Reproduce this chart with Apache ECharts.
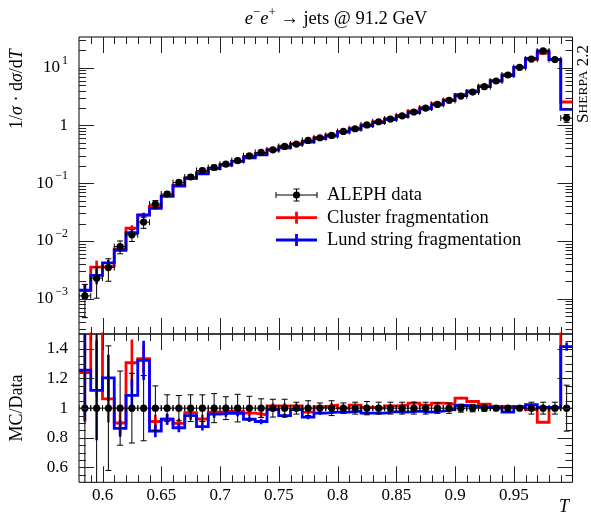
<!DOCTYPE html>
<html><head><meta charset="utf-8">
<script src="https://cdn.jsdelivr.net/npm/echarts@6/dist/echarts.min.js"></script>
<style>html,body{margin:0;padding:0;background:#fff}#c{width:591px;height:524px}</style>
</head><body><div id="c"></div>
<script>
// ---- data ----
const tEdges = [0.58,0.59,0.60,0.61,0.62,0.63,0.64,0.65,0.66,0.67,0.68,0.69,0.70,0.71,0.72,0.73,0.74,0.75,0.76,0.77,0.78,0.79,0.80,0.81,0.82,0.83,0.84,0.85,0.86,0.87,0.88,0.89,0.90,0.91,0.92,0.93,0.94,0.95,0.96,0.97,0.98,0.99,1.00];
const alephData = [0.00112,0.00227,0.00346,0.0080,0.0128,0.0212,0.0435,0.0648,0.103,0.128,0.166,0.187,0.214,0.247,0.298,0.341,0.379,0.433,0.476,0.550,0.612,0.671,0.787,0.877,1.02,1.16,1.29,1.47,1.71,2.00,2.31,2.71,3.23,3.79,4.69,5.88,7.47,10.1,14.1,19.5,13.8,1.34];
const alephRelErr = [0.58,0.55,0.42,0.25,0.235,0.22,0.15,0.09,0.085,0.09,0.09,0.098,0.077,0.093,0.08,0.063,0.06,0.06,0.04,0.05,0.035,0.05,0.035,0.04,0.045,0.04,0.04,0.04,0.04,0.04,0.035,0.035,0.027,0.025,0.02,0.012,0.012,0.012,0.04,0.04,0.04,0.155];
const clusterRatio = [1.24,1.55,1.063,0.90,1.306,1.333,0.91,0.925,0.898,0.97,0.927,0.973,0.98,0.98,0.966,0.955,1.016,1.016,1.016,0.973,1.01,1.02,1.0,1.02,1.005,1.0,1.016,1.02,1.034,1.02,1.034,1.027,1.068,1.045,1.027,1.011,1.011,1.011,0.99,0.905,1.0,1.9];
const lundRatio = [1.256,1.12,1.204,0.864,1.086,1.322,0.846,0.925,0.868,0.95,0.875,0.96,0.966,0.965,0.925,0.91,0.99,0.95,0.99,0.94,0.966,0.973,0.973,0.98,0.966,0.966,0.977,0.973,0.98,0.973,0.98,0.99,1.018,1.011,1.005,1.0,0.973,1.005,1.023,1.005,1.005,1.415];
const clusterRelErr = [0.27,0.30,0.15,0.08,0.12,0.07,0.05,0.04,0.035,0.03,0.03,0.025,0.025,0.02,0.02,0.02,0.015,0.015,0.015,0.015,0.012,0.012,0.012,0.01,0.01,0.01,0.01,0.01,0.01,0.01,0.008,0.008,0.008,0.008,0.006,0.006,0.005,0.005,0.004,0.004,0.005,0.02];
const lundRelErr = [0.27,0.30,0.13,0.065,0.10,0.10,0.05,0.04,0.035,0.03,0.03,0.025,0.025,0.02,0.02,0.02,0.015,0.015,0.015,0.015,0.012,0.012,0.012,0.01,0.01,0.01,0.01,0.01,0.01,0.01,0.008,0.008,0.008,0.008,0.006,0.006,0.005,0.005,0.004,0.004,0.005,0.02];
const xMajorTicks = [0.60,0.65,0.70,0.75,0.80,0.85,0.90,0.95];
const xMinorTicks = [0.59,0.61,0.62,0.63,0.64,0.66,0.67,0.68,0.69,0.71,0.72,0.73,0.74,0.76,0.77,0.78,0.79,0.81,0.82,0.83,0.84,0.86,0.87,0.88,0.89,0.91,0.92,0.93,0.94,0.96,0.97,0.98,0.99];
const yMajorTicks = [1e-3,1e-2,1e-1,1,10];
const yMinorTicks = [3e-4,4e-4,5e-4,6e-4,7e-4,8e-4,9e-4,2e-3,3e-3,4e-3,5e-3,6e-3,7e-3,8e-3,9e-3,2e-2,3e-2,4e-2,5e-2,6e-2,7e-2,8e-2,9e-2,0.2,0.3,0.4,0.5,0.6,0.7,0.8,0.9,2,3,4,5,6,7,8,9,20,30];
const rMajorTicks = [0.6,0.8,1.0,1.2,1.4];
const rMinorTicks = [0.55,0.65,0.7,0.75,0.85,0.9,0.95,1.05,1.1,1.15,1.25,1.3,1.35,1.45];
const legendLabels = ['ALEPH data','Cluster fragmentation','Lund string fragmentation'];
const seriesColors = ['#000000','#ff0000','#0000ff'];

// ---- derived ----
const lo = i => tEdges[i], hi = i => tEdges[i+1], mid = i => (tEdges[i]+tEdges[i+1])/2;
const clusterMC = alephData.map((v,i)=>v*clusterRatio[i]);
const lundMC = alephData.map((v,i)=>v*lundRatio[i]);
function histPts(vals){ const p=[]; vals.forEach((v,i)=>{p.push([lo(i),v]);p.push([hi(i),v]);}); return p; }
function errItems(vals, rel){ return vals.map((v,i)=>[mid(i), v, v*(1-rel[i]), v*(1+rel[i]), lo(i), hi(i)]); }
const FONT = 'Liberation Serif';

function dataSeries(g, items){
  return {type:'custom', name:'ALEPH data', xAxisIndex:g, yAxisIndex:g, clip:true, z:20, silent:true,
    encode:{x:0,y:1}, data:items,
    renderItem(params, api){
      const xc=api.value(0), y=api.value(1), yl=api.value(2), yh=api.value(3), xl=api.value(4), xh=api.value(5);
      const c=api.coord([xc,y]), pl=api.coord([xl,y]), ph=api.coord([xh,y]), pt=api.coord([xc,yh]), pb=api.coord([xc,yl]);
      const st={stroke:'#000', lineWidth:1};
      const L=(x1,y1,x2,y2)=>({type:'line', shape:{x1,y1,x2,y2}, style:st});
      return {type:'group', children:[
        L(pl[0],c[1],ph[0],c[1]), L(pl[0],c[1]-3,pl[0],c[1]+3), L(ph[0],c[1]-3,ph[0],c[1]+3),
        L(c[0],pt[1],c[0],pb[1]), L(c[0]-3,pt[1],c[0]+3,pt[1]), L(c[0]-3,pb[1],c[0]+3,pb[1]),
        {type:'circle', shape:{cx:c[0],cy:c[1],r:3.6}, style:{fill:'#000'}}
      ]};
    }};
}
function mcErrSeries(g, items, color, name){
  return {type:'custom', name, xAxisIndex:g, yAxisIndex:g, clip:true, z:5, silent:true,
    encode:{x:0,y:1}, data:items,
    renderItem(params, api){
      const pt=api.coord([api.value(0),api.value(3)]), pb=api.coord([api.value(0),api.value(2)]);
      return {type:'line', shape:{x1:pt[0],y1:pt[1],x2:pb[0],y2:pb[1]}, style:{stroke:color, lineWidth:2.6}};
    }};
}
function histSeries(g, vals, color, name, z){
  return {type:'line', name, xAxisIndex:g, yAxisIndex:g, data:histPts(vals), symbol:'none', showSymbol:false,
    clip:true, z, lineStyle:{color, width:2.8, join:'miter', cap:'butt'}, animation:false};
}
function tickSeries(g, axis, vals, len){
  return {type:'custom', xAxisIndex:g, yAxisIndex:g, silent:true, z:30, clip:false,
    encode:{x:0,y:1},
    data: vals.map(v => axis==='x' ? [v,1] : [0.8,v]),
    renderItem(params, api){
      const cs=params.coordSys; const p=api.coord([api.value(0),api.value(1)]);
      const st={stroke:'#222', lineWidth:1};
      if(axis==='x'){
        const x=Math.round(p[0])+0.5;
        return {type:'group', children:[
          {type:'line', shape:{x1:x,y1:cs.y,x2:x,y2:cs.y+len}, style:st},
          {type:'line', shape:{x1:x,y1:cs.y+cs.height,x2:x,y2:cs.y+cs.height-len}, style:st}]};
      }
      const y=Math.round(p[1])+0.5;
      return {type:'group', children:[
        {type:'line', shape:{x1:cs.x,y1:y,x2:cs.x+len,y2:y}, style:st},
        {type:'line', shape:{x1:cs.x+cs.width,y1:y,x2:cs.x+cs.width-len,y2:y}, style:st}]};
    }};
}
function logFmt(v){
  const l=Math.log10(v), e=Math.round(l);
  if(Math.abs(l-e)>0.01) return '';
  if(e===0) return '{b|1}';
  return '{b|10}{s|'+(e<0?'\u2212':'')+Math.abs(e)+'}';
}
const supRich = {b:{fontSize:17,fontFamily:FONT,color:'#000'}, s:{fontSize:12,fontFamily:FONT,color:'#000',padding:[0,0,14,2]}};

const gridL=79, gridR=591-572.5;
const option = {
  animation:false,
  backgroundColor:'#fff',
  title:{text:'{i|e}{s|\u2212}{i|e}{s|+} \u2192 jets @ 91.2 GeV', left:331, top:1, textAlign:'center',
    textStyle:{fontSize:18.5, fontFamily:FONT, fontWeight:'normal', color:'#000',
      rich:{i:{fontSize:18.5,fontFamily:FONT,fontStyle:'italic',color:'#000'}, s:{fontSize:13,fontFamily:FONT,color:'#000',padding:[0,0,14,0]}}}},
  grid:[
    {left:gridL, right:gridR, top:37, height:297, show:true, borderColor:'#000', borderWidth:1, containLabel:false},
    {left:gridL, right:gridR, top:334, height:148.3, show:true, borderColor:'#000', borderWidth:1, containLabel:false}
  ],
  xAxis:[
    {gridIndex:0, type:'value', min:0.58, max:1.0, splitNumber:8, axisLabel:{show:false}, axisTick:{show:false}, axisLine:{show:false}, splitLine:{show:false}},
    {gridIndex:1, type:'value', min:0.58, max:1.0, splitNumber:8, axisTick:{show:false}, axisLine:{show:false}, splitLine:{show:false},
      axisLabel:{showMinLabel:false, showMaxLabel:false, fontSize:17, fontFamily:FONT, color:'#000', margin:5}}
  ],
  yAxis:[
    {gridIndex:0, type:'log', min:2.45e-4, max:34, axisTick:{show:false}, axisLine:{show:false}, splitLine:{show:false}, minorTick:{show:false},
      axisLabel:{showMinLabel:false, showMaxLabel:false, formatter:logFmt, rich:supRich, margin:11, align:'right'}},
    {gridIndex:1, type:'value', min:0.5, max:1.5, splitNumber:5, axisTick:{show:false}, axisLine:{show:false}, splitLine:{show:false},
      axisLabel:{showMinLabel:false, showMaxLabel:false, fontSize:17, fontFamily:FONT, color:'#000', margin:11}}
  ],
  series:[
    histSeries(0, clusterMC, seriesColors[1], legendLabels[1], 2),
    mcErrSeries(0, errItems(clusterMC, clusterRelErr), seriesColors[1], legendLabels[1]),
    histSeries(0, lundMC, seriesColors[2], legendLabels[2], 3),
    mcErrSeries(0, errItems(lundMC, lundRelErr), seriesColors[2], legendLabels[2]),
    dataSeries(0, errItems(alephData, alephRelErr)),
    histSeries(1, clusterRatio, seriesColors[1], legendLabels[1], 2),
    mcErrSeries(1, errItems(clusterRatio, clusterRelErr), seriesColors[1], legendLabels[1]),
    histSeries(1, lundRatio, seriesColors[2], legendLabels[2], 3),
    mcErrSeries(1, errItems(lundRatio, lundRelErr), seriesColors[2], legendLabels[2]),
    dataSeries(1, errItems(alephData.map(()=>1), alephRelErr)),
    tickSeries(0,'x',xMajorTicks,16), tickSeries(0,'x',xMinorTicks,7),
    tickSeries(0,'y',yMajorTicks,15), tickSeries(0,'y',yMinorTicks,7),
    tickSeries(1,'x',xMajorTicks,16), tickSeries(1,'x',xMinorTicks,7),
    tickSeries(1,'y',rMajorTicks,15), tickSeries(1,'y',rMinorTicks,7)
  ]
};

// legend + axis titles (text)
const legY=[195,217.7,240], mx0=276, mx1=317, mxc=296.5, tx=327;
const g=[];
legY.forEach((y,k)=>{
  if(k===0){
    const st={stroke:'#000',lineWidth:1};
    g.push({type:'line',shape:{x1:mx0,y1:y,x2:mx1,y2:y},style:st});
    g.push({type:'line',shape:{x1:mx0,y1:y-3,x2:mx0,y2:y+3},style:st});
    g.push({type:'line',shape:{x1:mx1,y1:y-3,x2:mx1,y2:y+3},style:st});
    g.push({type:'line',shape:{x1:mxc,y1:y-6,x2:mxc,y2:y+6},style:st});
    g.push({type:'line',shape:{x1:mxc-3,y1:y-6,x2:mxc+3,y2:y-6},style:st});
    g.push({type:'line',shape:{x1:mxc-3,y1:y+6,x2:mxc+3,y2:y+6},style:st});
    g.push({type:'circle',shape:{cx:mxc,cy:y,r:3.6},style:{fill:'#000'}});
  } else {
    const st={stroke:seriesColors[k],lineWidth:2.8};
    g.push({type:'line',shape:{x1:mx0,y1:y,x2:mx1,y2:y},style:st});
    g.push({type:'line',shape:{x1:mxc,y1:y-6,x2:mxc,y2:y+6},style:st});
  }
  g.push({type:'text',x:tx,y:y,style:{text:legendLabels[k],fontSize:18.5,fontFamily:FONT,fill:'#000',align:'left',verticalAlign:'middle'}});
});
g.push({type:'text',x:17,y:89,rotation:Math.PI/2,style:{text:'1/{i|\u03c3} \u00b7 d{i|\u03c3}/d{i|T}',fontSize:18,fontFamily:FONT,fill:'#000',align:'center',verticalAlign:'middle',
  rich:{i:{fontSize:18,fontFamily:FONT,fontStyle:'italic'}}}});
g.push({type:'text',x:17,y:408,rotation:Math.PI/2,style:{text:'MC/Data',fontSize:18,fontFamily:FONT,fill:'#000',align:'center',verticalAlign:'middle'}});
g.push({type:'text',x:564,y:507,style:{text:'T',fontSize:18,fontFamily:FONT,fontStyle:'italic',fill:'#000',align:'center',verticalAlign:'middle'}});
g.push({type:'text',x:583.5,y:84,rotation:Math.PI/2,style:{text:'{a|S}{b|HERPA} {a|2.2}',fontSize:17,fontFamily:FONT,fill:'#000',align:'center',verticalAlign:'middle',
  rich:{a:{fontSize:17,fontFamily:FONT},b:{fontSize:13.5,fontFamily:FONT}}}});
option.graphic = g;

const chart = echarts.init(document.getElementById('c'), null, {renderer:'canvas'});
chart.setOption(option);
</script></body></html>
